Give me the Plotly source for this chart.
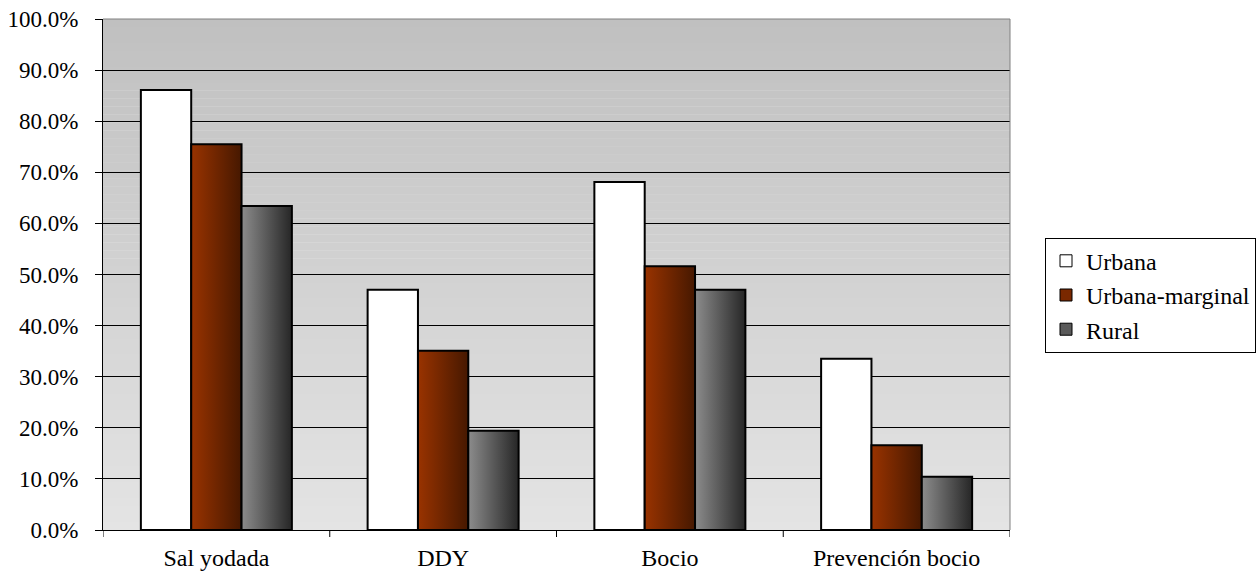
import plotly.graph_objects as go

categories = ["Sal yodada", "DDY", "Bocio", "Prevención bocio"]
series_names = ["Urbana", "Urbana-marginal", "Rural"]
urbana = [0.861, 0.470, 0.681, 0.335]
urbana_marginal = [0.755, 0.351, 0.516, 0.166]
rural = [0.634, 0.194, 0.470, 0.104]
y_tick_values = [0.0, 0.1, 0.2, 0.3, 0.4, 0.5, 0.6, 0.7, 0.8, 0.9, 1.0]

series_values = [urbana, urbana_marginal, rural]
# horizontal fill gradients (left -> right) for each series
series_fills = [
    ("#ffffff", "#ffffff"),
    ("#993300", "#461800"),
    ("#8c8c8c", "#262626"),
]
legend_colors = ["#ffffff", "#7a2800", "#5a5a5a"]

FONT = "Liberation Serif"
bar_width = 0.222
offsets = [-bar_width, 0.0, bar_width]

fig = go.Figure()

for s, (name, vals) in enumerate(zip(series_names, series_values)):
    c0, c1 = series_fills[s]
    for i, v in enumerate(vals):
        x0 = i + offsets[s] - bar_width / 2
        x1 = i + offsets[s] + bar_width / 2
        fig.add_trace(go.Scatter(
            x=[x0, x0, x1, x1, x0],
            y=[0, v, v, 0, 0],
            mode="lines",
            fill="toself",
            fillgradient=dict(type="horizontal",
                              colorscale=[[0, c0], [1, c1]]),
            line=dict(color="black", width=2),
            showlegend=False,
            hoverinfo="skip",
        ))
    # square legend entry for the series
    fig.add_trace(go.Bar(
        x=[None], y=[None], name=name,
        marker=dict(color=legend_colors[s], line=dict(color="black", width=1)),
    ))

# plot-area background: vertical grey gradient built from thin bands
n_bands = 64
top_grey, bottom_grey = 192, 228
bands = []
for k in range(n_bands):
    t = (k + 0.5) / n_bands
    g = round(bottom_grey + (top_grey - bottom_grey) * t)
    bands.append(dict(
        type="rect", xref="paper", yref="paper", layer="below",
        x0=0, x1=1, y0=k / n_bands, y1=min(1, (k + 1.05) / n_bands),
        fillcolor=f"rgb({g},{g},{g})", line=dict(width=0),
    ))

border = [
    dict(type="line", xref="paper", yref="paper", x0=0, x1=1, y0=1, y1=1,
         line=dict(color="#808080", width=1)),
    dict(type="line", xref="paper", yref="paper", x0=1, x1=1, y0=0, y1=1,
         line=dict(color="#808080", width=1)),
]

# tick marks on the category boundaries
boundary_ticks = [
    dict(type="line", xref="x", yref="paper", x0=b, x1=b, y0=0, y1=-0.0137,
         line=dict(color="black", width=1))
    for b in [-0.5, 0.5, 1.5, 2.5, 3.5]
]

fig.update_layout(
    width=1257, height=579,
    margin=dict(l=103, r=247, t=19, b=49, autoexpand=False),
    paper_bgcolor="white",
    plot_bgcolor="white",
    font=dict(family=FONT, size=24, color="black"),
    shapes=bands + border + boundary_ticks,
    showlegend=True,
    legend=dict(
        x=1.0386, y=0.572, xanchor="left", yanchor="top",
        bgcolor="white", bordercolor="black", borderwidth=1,
        font=dict(family=FONT, size=24, color="black"),
        itemwidth=30, tracegroupgap=0,
    ),
    xaxis=dict(
        range=[-0.5, 3.5], automargin=False,
        tickmode="array", tickvals=[0, 1, 2, 3], ticktext=categories,
        ticks="outside", ticklen=6, tickcolor="rgba(0,0,0,0)",
        showline=True, linecolor="black", linewidth=1,
        showgrid=False, zeroline=False,
        tickfont=dict(family=FONT, size=24, color="black"),
    ),
    yaxis=dict(
        range=[0, 1], automargin=False,
        tickmode="array", tickvals=y_tick_values, tickformat=".1%",
        ticks="outside", ticklen=7, tickcolor="black",
        ticklabelstandoff=12,
        showline=True, linecolor="black", linewidth=1,
        showgrid=True, gridcolor="black", gridwidth=1,
        zeroline=False,
        tickfont=dict(family=FONT, size=23, color="black"),
    ),
)

# keep every text element of the chart in the serif face
serif_text = """
var gd = document.getElementById('{plot_id}');
function serifText() {
  gd.querySelectorAll('text').forEach(function (t) {
    t.style.fontFamily = "'Liberation Serif', 'Times New Roman', serif";
  });
}
serifText();
setTimeout(serifText, 50);
setTimeout(serifText, 300);
if (gd.on) { gd.on('plotly_afterplot', serifText); }
"""

fig.write_html("out.html", post_script=serif_text)
